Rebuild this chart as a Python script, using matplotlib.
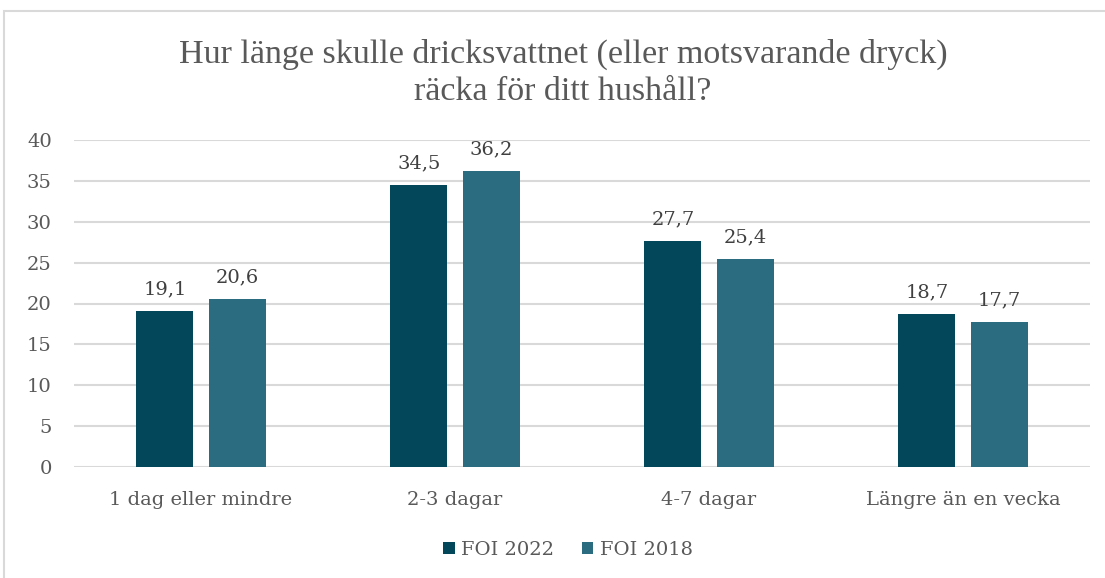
import matplotlib
matplotlib.use("Agg")
import matplotlib.pyplot as plt
import numpy as np
from matplotlib.patches import Rectangle

categories = ["1 dag eller mindre", "2-3 dagar", "4-7 dagar", "Längre än en vecka"]
foi_2022 = [19.1, 34.5, 27.7, 18.7]
foi_2018 = [20.6, 36.2, 25.4, 17.7]
series_names = ["FOI 2022", "FOI 2018"]
colors = ["#03475B", "#2B6C80"]
title = "Hur länge skulle dricksvattnet (eller motsvarande dryck)\nräcka för ditt hushåll?"

plt.rcParams['font.family'] = ['DejaVu Serif']
txt = "#595959"
fs = 14

W, H = 1105, 578
fig = plt.figure(figsize=(W/100, H/100), dpi=100)
ax = fig.add_axes([74/W, 1-467/H, (1090-74)/W, (467-140)/H])

x = np.arange(len(categories))
bw = 0.224
off = 0.142
b1 = ax.bar(x - off, foi_2022, bw, color=colors[0], label=series_names[0], zorder=3)
b2 = ax.bar(x + off, foi_2018, bw, color=colors[1], label=series_names[1], zorder=3)
for bars, vals in ((b1, foi_2022), (b2, foi_2018)):
    for r, v in zip(bars, vals):
        ax.annotate(f"{v:.1f}".replace(".", ","), (r.get_x()+r.get_width()/2, v),
                    xytext=(0, 9), textcoords="offset points", ha="center", va="bottom",
                    fontsize=fs, color="#404040")

ax.set_xlim(-0.5, 3.5)
ax.set_ylim(0, 40)
ax.set_yticks(range(0, 41, 5))
ax.set_xticks(x)
ax.set_xticklabels(categories)
ax.tick_params(axis='both', length=0, labelsize=fs, labelcolor=txt)
ax.tick_params(axis='y', pad=16)
ax.tick_params(axis='x', pad=17)
ax.grid(axis='y', color="#D9D9D9", lw=1.5, zorder=0)
for s in ax.spines.values():
    s.set_visible(False)

fig.text(563/W, 1-73/H, title, ha="center", va="center", fontsize=24.5, color=txt,
         linespacing=1.3, family=['Liberation Serif'])

leg = fig.legend(handles=[b1, b2], labels=series_names, loc="center", bbox_to_anchor=(568/W, 1-550/H),
                 ncol=2, frameon=False, fontsize=fs, handlelength=0.6, handleheight=0.6,
                 handletextpad=0.35, columnspacing=1.4)
for t in leg.get_texts():
    t.set_color(txt)

fig.patches.append(Rectangle((4/W, -0.1), 1.2, 1-11/H+0.1, transform=fig.transFigure,
                             fill=False, ec="#D9D9D9", lw=1.5))

fig.savefig("out.png", dpi=100)
